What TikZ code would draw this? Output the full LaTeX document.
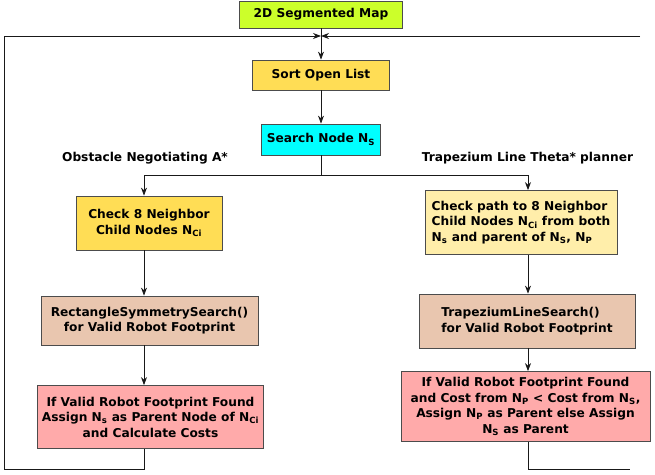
\documentclass[tikz,border=0pt]{standalone}
\usepackage{fontspec}
\setmainfont{DejaVu Sans}
\usetikzlibrary{arrows.meta}
\definecolor{mapgreen}{HTML}{CCFF2A}
\definecolor{sortgold}{HTML}{FFDD55}
\definecolor{srchcyan}{HTML}{00FFFF}
\definecolor{pathcream}{HTML}{FFEEAA}
\definecolor{searchtan}{HTML}{E9C6AF}
\definecolor{assignpink}{HTML}{FFAAAA}
\newcommand{\Nsub}[1]{N\textsubscript{#1}}
\tikzset{
  box/.style={draw=black!70,line width=0.8pt,align=center,inner sep=0pt,
    font=\fontsize{12.2}{15.5}\selectfont\bfseries},
  lbl/.style={inner sep=0pt,font=\fontsize{12.2}{15.5}\selectfont\bfseries},
  lnk/.style={line width=0.8pt,black!90},
  arr/.style={lnk,-{Stealth[length=8pt,width=6pt]}}
}
\begin{document}
\begin{tikzpicture}[x=1pt,y=-1pt]
	\fill[white] (0,0) rectangle (655,474);
	\useasboundingbox (0,0) rectangle (655,474);
	\node[box,fill=mapgreen,minimum width=163pt,minimum height=27pt] (map) at (321,14.5) {2D Segmented Map};
	\node[box,fill=sortgold,minimum width=137pt,minimum height=30pt] (sort) at (321,75) {Sort Open List};
	\node[box,fill=srchcyan,minimum width=119pt,minimum height=31pt] (search) at (321,139.5) {Search Node \Nsub{S}};
	\node[lbl] (lblL) at (145,158) {Obstacle Negotiating A*};
	\node[lbl] (lblR) at (527.5,158) {Trapezium Line Theta* planner};
	\node[box,fill=sortgold,minimum width=146pt,minimum height=54pt] (chkL) at (149,223) {Check 8 Neighbor\\Child Nodes \Nsub{Ci}};
	\node[box,fill=searchtan,minimum width=217pt,minimum height=49pt] (rectL) at (149.5,320.5) {RectangleSymmetrySearch()\\ for Valid Robot Footprint};
	\node[box,fill=assignpink,minimum width=226pt,minimum height=63pt] (validL) at (150.5,417) {If Valid Robot Footprint Found\\Assign \Nsub{s} as Parent Node of \Nsub{Ci}\\and Calculate Costs};
	\node[box,fill=pathcream,minimum width=192pt,minimum height=64pt,align=left] (chkR) at (521,222.5) {Check path to 8 Neighbor\\Child Nodes \Nsub{Ci} from both\\\Nsub{s} and parent of \Nsub{S}, \Nsub{P}};
	\node[box,fill=searchtan,minimum width=216pt,minimum height=54pt,align=left] (trapR) at (527,321) {TrapeziumLineSearch()\\for Valid Robot Footprint};
	\node[box,fill=assignpink,minimum width=249pt,minimum height=70pt] (validR) at (525.5,406.5) {If Valid Robot Footprint Found\\and Cost from \Nsub{P} < Cost from \Nsub{S},\\Assign \Nsub{P} as Parent else Assign\\\Nsub{S} as Parent};

	\coordinate (jn) at (321,36);
	\coordinate (tl) at (4,36);
	\coordinate (bl) at (4,469);
	\coordinate (tr) at (640,36);
	\coordinate (br) at (630,469);
	\coordinate (sp) at (321,175);
	\coordinate (colL) at (144,0);
	\coordinate (colR) at (528,0);

	\draw[arr] (map) -- (sort);
	\draw[arr] (sort) -- (search);
	\draw[lnk] (search) -- (sp);
	\draw[arr] (sp) -| (chkL.north -| colL);
	\draw[arr] (sp) -| (chkR.north -| colR);
	\draw[arr] (chkL.south -| colL) -- (rectL.north -| colL);
	\draw[arr] (rectL.south -| colL) -- (validL.north -| colL);
	\draw[arr] (chkR.south -| colR) -- (trapR.north -| colR);
	\draw[arr] (trapR.south -| colR) -- (validR.north -| colR);
	\draw[arr] (validL.south -| colL) -- (colL |- bl) -- (bl) -- (tl) -- (jn);
	\draw[lnk] (validR.south -| colR) -- (colR |- br) -- (br);
	\draw[arr] (tr) -- (jn);
\end{tikzpicture}
\end{document}
